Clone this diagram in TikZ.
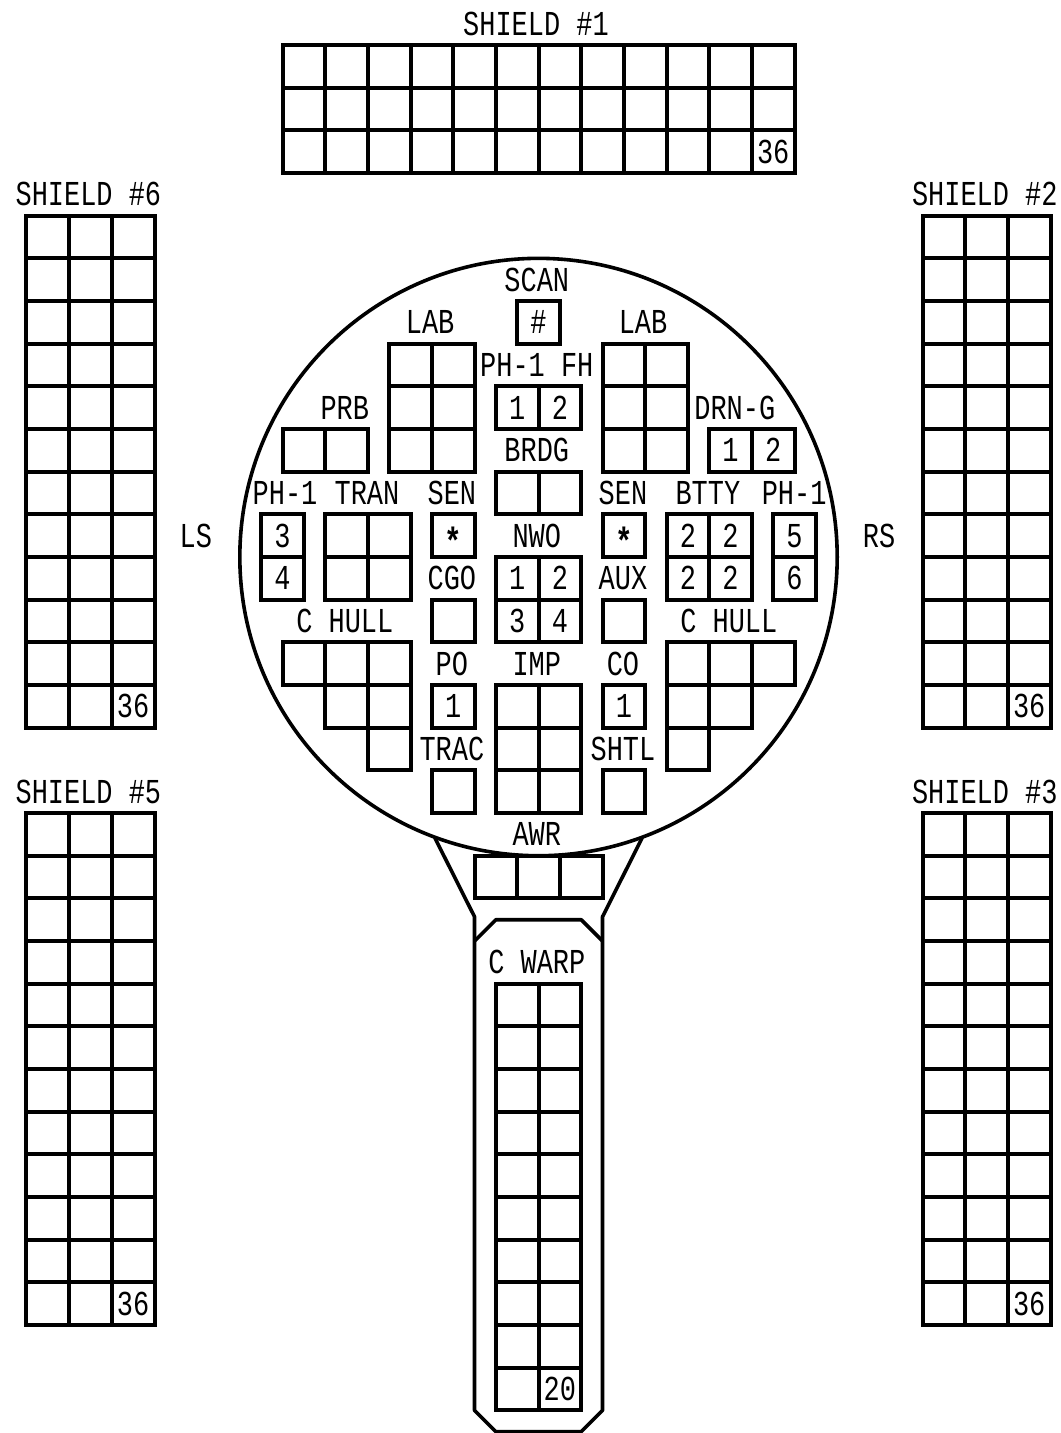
\documentclass[tikz,border=0pt]{standalone}
\usepackage{fontspec}
\newfontfamily\panelfont[FakeStretch=0.77]{Liberation Mono}
\tikzset{
	cell/.style={rectangle, draw, line width=4pt, inner sep=0pt, outer sep=0pt, minimum width=42.67pt, minimum height=42.67pt},
	tag/.style={inner sep=0pt, outer sep=0pt, text height=23pt, text depth=0pt, font=\panelfont\fontsize{35}{35}\selectfont},
	startag/.style={tag, yshift=-7pt, font=\panelfont\bfseries\fontsize{38}{38}\selectfont},
	hull/.style={line width=3.6pt, line join=round}
}
\begin{document}
\begin{tikzpicture}[x=42.67pt, y=-42.67pt]
	\useasboundingbox (-0.621,-1.055) rectangle (24.244,32.53);

	% Saucer and neck
	\node[circle, draw, hull, inner sep=0pt, minimum size=597.4pt] (saucer) at (12,12) {};
	\coordinate (neckL) at (9.57,18.58);
	\coordinate (neckR) at (14.43,18.58);
	\coordinate (hipL) at (10.5,20.43);
	\coordinate (hipR) at (13.5,20.43);
	\coordinate (footL) at (10.5,32);
	\coordinate (footR) at (13.5,32);
	\coordinate (shoulderL) at (10.5,21);
	\coordinate (shoulderR) at (13.5,21);
	\coordinate (capL) at (11,20.5);
	\coordinate (capR) at (13,20.5);
	\coordinate (baseL) at (11,32.5);
	\coordinate (baseR) at (13,32.5);
	\draw[hull] (neckL) -- (hipL) -- (footL) -- (baseL) -- (baseR) -- (footR) -- (hipR) -- (neckR);
	\draw[hull] (shoulderL) -- (capL) -- (capR) -- (shoulderR);

	% Boxes: name / left / top / columns / rows
	\foreach \name/\xa/\ya/\nx/\ny in {
		s1/6/0/12/3, s6/0/4/3/12, s2/21/4/3/12, s5/0/18/3/12, s3/21/18/3/12,
		scan/11.5/6/1/1, labL/8.5/7/2/3, labR/13.5/7/2/3, fh/11/8/2/1,
		prb/6/9/2/1, drng/16/9/2/1, brdg/11/10/2/1,
		phL/5.5/11/1/2, tran/7/11/2/2, senL/9.5/11/1/1, senR/13.5/11/1/1,
		btty/15/11/2/2, phR/17.5/11/1/2, nwo/11/12/2/2, cgo/9.5/13/1/1, aux/13.5/13/1/1,
		hullLa/6/14/3/1, hullLb/7/15/2/1, hullLc/8/16/1/1,
		hullRa/15/14/3/1, hullRb/15/15/2/1, hullRc/15/16/1/1,
		po/9.5/15/1/1, co/13.5/15/1/1, imp/11/15/2/3, trac/9.5/17/1/1, shtl/13.5/17/1/1,
		awr/10.5/19/3/1, warp/11/22/2/10}
		\foreach \i in {1,...,\nx}
			\foreach \j in {1,...,\ny}
				\node[cell] (\name-\i-\j) at ({\xa+\i-.5},{\ya+\j-.5}) {};

	% Numbers in boxes
	\node[tag] (n1) at (s1-12-3) {36};
	\node[tag] (n2) at (s6-3-12) {36};
	\node[tag] (n3) at (s2-3-12) {36};
	\node[tag] (n4) at (s5-3-12) {36};
	\node[tag] (n5) at (s3-3-12) {36};
	\node[tag] (n6) at (warp-2-10) {20};
	\node[tag] (n7) at (scan-1-1) {\#};
	\node[tag] (n8) at (fh-1-1) {1};
	\node[tag] (n9) at (fh-2-1) {2};
	\node[tag] (n10) at (drng-1-1) {1};
	\node[tag] (n11) at (drng-2-1) {2};
	\node[tag] (n12) at (phL-1-1) {3};
	\node[tag] (n13) at (phL-1-2) {4};
	\node[tag] (n14) at (phR-1-1) {5};
	\node[tag] (n15) at (phR-1-2) {6};
	\node[startag] (n16) at (senL-1-1) {*};
	\node[startag] (n17) at (senR-1-1) {*};
	\node[tag] (n18) at (btty-1-1) {2};
	\node[tag] (n19) at (btty-2-1) {2};
	\node[tag] (n20) at (btty-1-2) {2};
	\node[tag] (n21) at (btty-2-2) {2};
	\node[tag] (n22) at (nwo-1-1) {1};
	\node[tag] (n23) at (nwo-2-1) {2};
	\node[tag] (n24) at (nwo-1-2) {3};
	\node[tag] (n25) at (nwo-2-2) {4};
	\node[tag] (n26) at (po-1-1) {1};
	\node[tag] (n27) at (co-1-1) {1};

	% Labels
	\node[tag] (lshield1) at (11.94,-0.5) {SHIELD \#1};
	\node[tag] (lshield6) at (1.45,3.5) {SHIELD \#6};
	\node[tag] (lshield2) at (22.46,3.5) {SHIELD \#2};
	\node[tag] (lshield5) at (1.45,17.5) {SHIELD \#5};
	\node[tag] (lshield3) at (22.46,17.5) {SHIELD \#3};
	\node[tag] (lls) at (3.97,11.5) {LS};
	\node[tag] (lrs) at (19.98,11.5) {RS};
	\node[tag] (lscan) at (11.96,5.5) {SCAN};
	\node[tag] (llabL) at (9.46,6.5) {LAB};
	\node[tag] (llabR) at (14.45,6.5) {LAB};
	\node[tag] (lfh) at (11.96,7.5) {PH-1 FH};
	\node[tag] (lprb) at (7.46,8.5) {PRB};
	\node[tag] (ldrng) at (16.6,8.5) {DRN-G};
	\node[tag] (lbrdg) at (11.96,9.5) {BRDG};
	\node[tag] (lphL) at (6.06,10.5) {PH-1};
	\node[tag] (ltran) at (7.98,10.5) {TRAN};
	\node[tag] (lsenL) at (9.97,10.5) {SEN};
	\node[tag] (lsenR) at (13.98,10.5) {SEN};
	\node[tag] (lbtty) at (15.97,10.5) {BTTY};
	\node[tag] (lphR) at (17.99,10.5) {PH-1};
	\node[tag] (lnwo) at (11.96,11.5) {NWO};
	\node[tag] (lcgo) at (9.97,12.5) {CGO};
	\node[tag] (laux) at (13.98,12.5) {AUX};
	\node[tag] (lhullL) at (7.46,13.5) {C HULL};
	\node[tag] (lhullR) at (16.46,13.5) {C HULL};
	\node[tag] (lpo) at (9.97,14.5) {PO};
	\node[tag] (limp) at (11.96,14.5) {IMP};
	\node[tag] (lco) at (13.98,14.5) {CO};
	\node[tag] (ltrac) at (9.97,16.5) {TRAC};
	\node[tag] (lshtl) at (13.98,16.5) {SHTL};
	\node[tag] (lawr) at (11.96,18.5) {AWR};
	\node[tag] (lwarp) at (11.96,21.5) {C WARP};
\end{tikzpicture}
\end{document}
